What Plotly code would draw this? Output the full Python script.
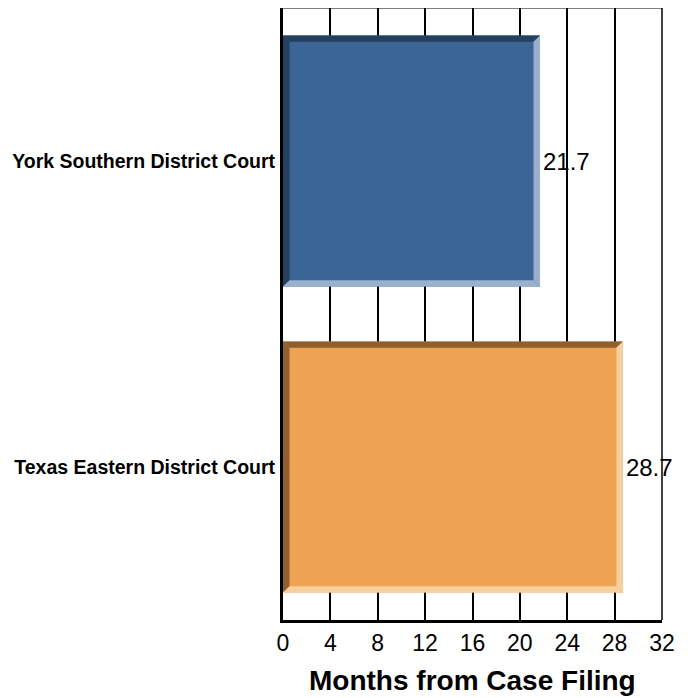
import plotly.graph_objects as go

categories = ["Texas Eastern District Court", "New York Southern District Court"]
values = [28.7, 21.7]
value_labels = ["28.7", "21.7"]
tick_vals = [0, 4, 8, 12, 16, 20, 24, 28, 32]
x_title = "Months from Case Filing"

main_colors = ["#EEA352", "#3A6595"]
dark_colors = ["#8F5F2E", "#243F5F"]
light_colors = ["#F8CF9F", "#9AB0CC"]

FONT = "Liberation Sans, Arial, sans-serif"
BAR_W = 0.82
BX = 0.55   # bevel thickness in x units
BY = 0.02   # bevel thickness in y units

fig = go.Figure()
fig.add_trace(go.Bar(
    y=categories, x=values, orientation="h", width=BAR_W,
    marker=dict(color=main_colors, line=dict(width=0)),
    text=value_labels, textposition="outside", cliponaxis=False,
    textfont=dict(family=FONT, size=24, color="black"),
    hoverinfo="skip",
))

shapes = []
for i, v in enumerate(values):
    x0, x1 = 0, v
    y0, y1 = i - BAR_W / 2, i + BAR_W / 2
    polys = [
        ([(x0, y1), (x1, y1), (x1 - BX, y1 - BY), (x0 + BX, y1 - BY)], dark_colors[i]),
        ([(x0, y1), (x0 + BX, y1 - BY), (x0 + BX, y0 + BY), (x0, y0)], dark_colors[i]),
        ([(x1, y1), (x1, y0), (x1 - BX, y0 + BY), (x1 - BX, y1 - BY)], light_colors[i]),
        ([(x0, y0), (x1, y0), (x1 - BX, y0 + BY), (x0 + BX, y0 + BY)], light_colors[i]),
    ]
    for pts, col in polys:
        path = "M " + " L ".join(f"{px},{py}" for px, py in pts) + " Z"
        shapes.append(dict(type="path", path=path, xref="x", yref="y",
                           fillcolor=col, line=dict(width=0), layer="above"))

# top and right frame lines
shapes.append(dict(type="line", xref="paper", yref="paper", x0=0, x1=1, y0=1, y1=1,
                   line=dict(color="#555555", width=1.5), layer="below"))
shapes.append(dict(type="line", xref="paper", yref="paper", x0=1, x1=1, y0=0, y1=1,
                   line=dict(color="black", width=1.5), layer="below"))

fig.update_layout(
    width=686, height=690,
    margin=dict(l=275, r=32, t=0, b=78),
    paper_bgcolor="white", plot_bgcolor="white",
    showlegend=False,
    shapes=shapes,
    annotations=[dict(
        text="<b>" + x_title + "</b>", xref="paper", yref="paper",
        x=0.5, y=0, xanchor="center", yanchor="middle", yshift=-60,
        showarrow=False, font=dict(family=FONT, size=28, color="black"),
    )],
    xaxis=dict(
        range=[0, 32], tickvals=tick_vals, ticktext=[str(t) for t in tick_vals],
        showgrid=True, gridcolor="black", gridwidth=1.5,
        zeroline=False, showline=True, linecolor="black", linewidth=3,
        ticks="", ticklabelstandoff=0,
        tickfont=dict(family=FONT, size=23, color="black"),
        automargin=False, fixedrange=True,
    ),
    yaxis=dict(
        type="category", categoryorder="array", categoryarray=categories,
        range=[-0.5, 1.5],
        showgrid=False, zeroline=False, showline=True, linecolor="black", linewidth=3,
        ticks="", ticklabelstandoff=1,
        tickfont=dict(family=FONT, size=19.5, color="black", weight="bold"),
        automargin=False, fixedrange=True,
    ),
)

fig.write_html("out.html")
